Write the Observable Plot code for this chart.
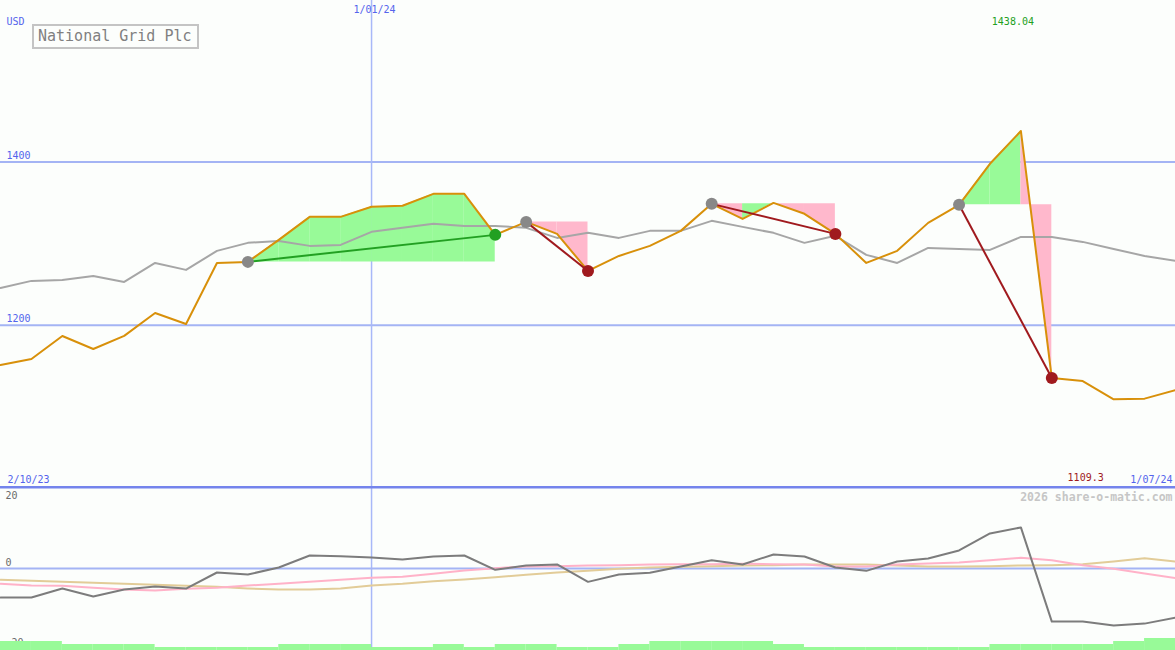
<!DOCTYPE html>
<html><head><meta charset="utf-8">
<script src="https://cdn.jsdelivr.net/npm/d3@7"></script>
<script src="https://cdn.jsdelivr.net/npm/@observablehq/plot@0.6"></script>
<style>
html,body{margin:0;padding:0;background:#fcfefc;overflow:hidden}
#wrap{position:relative;width:1175px;height:650px;background:#fcfefc}
#wrap svg{position:absolute;left:0;display:block;overflow:visible}
#title{position:absolute;left:32px;top:24px;width:167px;height:25px;box-sizing:border-box;border:2px solid #c4c4c4;font:15px "DejaVu Sans Mono",monospace;color:#808080;line-height:21px;padding-left:4px;white-space:nowrap;background:#fcfefc}
</style></head><body>
<div id="wrap"></div>
<script>
// ---- data ----
const dates = ["2023-10-09","2023-10-16","2023-10-23","2023-10-30","2023-11-06","2023-11-13","2023-11-20","2023-11-27",
"2023-12-04","2023-12-11","2023-12-18","2023-12-25","2024-01-01","2024-01-08","2024-01-15","2024-01-22","2024-01-29",
"2024-02-05","2024-02-12","2024-02-19","2024-02-26","2024-03-04","2024-03-11","2024-03-18","2024-03-25","2024-04-01",
"2024-04-08","2024-04-15","2024-04-22","2024-04-29","2024-05-06","2024-05-13","2024-05-20","2024-05-27","2024-06-03",
"2024-06-10","2024-06-17","2024-06-24","2024-07-01"].map(d => new Date(d));
const price = [1151.3,1158.7,1186.9,1170.9,1187.0,1215.1,1201.6,1276.4,1277.7,1304.7,1332.9,1332.9,1345.2,1346.5,1361.1,1361.1,
1310.8,1326.7,1312.0,1266.6,1285.0,1297.3,1315.7,1348.8,1330.4,1350.0,1336.6,1312.0,1276.4,1291.2,1325.5,1347.6,1397.9,1438.04,
1135.3,1131.6,1109.3,1110.1,1120.6];
const avg = [1245.8,1254.4,1255.6,1260.5,1253.1,1276.4,1267.9,1291.2,1301.0,1303.4,1297.3,1298.5,1314.5,1319.4,1324.3,1321.8,
1321.8,1319.4,1307.1,1313.3,1307.1,1315.7,1315.7,1328.0,1320.6,1313.3,1301.0,1309.6,1286.3,1276.4,1294.8,1293.6,1292.4,1308.3,
1308.3,1302.2,1293.6,1285.0,1278.9];
const momentum = [-8.7,-8.7,-6.0,-8.4,-6.3,-5.4,-6.0,-1.2,-1.8,0.3,3.9,3.7,3.3,2.7,3.6,3.9,-0.4,0.9,1.2,-4.0,-1.8,-1.3,0.6,2.5,
1.2,4.2,3.6,0.3,-0.7,2.1,3.0,5.4,10.5,12.3,-15.9,-15.9,-17.1,-16.5,-14.7];
const pinkSignal = [-4.6,-5.1,-5.2,-5.8,-6.3,-6.6,-6.1,-5.8,-5.1,-4.6,-4.0,-3.4,-2.8,-2.5,-1.6,-0.6,0.1,0.6,0.7,0.9,1.0,1.2,1.3,
1.3,1.4,1.3,1.2,0.6,0.6,1.2,1.5,1.8,2.5,3.2,2.5,1.0,-0.1,-1.5,-2.9];
const tanSignal = [-3.4,-3.7,-4.0,-4.3,-4.6,-4.9,-5.2,-5.5,-6.0,-6.3,-6.3,-6.0,-5.1,-4.6,-3.8,-3.3,-2.6,-1.9,-1.2,-0.7,-0.1,0.3,
0.5,0.7,0.9,1.0,1.2,1.2,1.2,0.9,0.6,0.6,0.7,0.9,1.0,1.3,2.1,3.1,2.1];
const volumeLevel = [3,3,2,2,2,1,1,1,1,2,2,2,1,1,2,1,2,2,1,1,2,3,3,3,3,2,1,1,1,1,1,1,2,2,2,2,3,4];
const trades = [{entry: 8, exit: 16},{entry: 17, exit: 19},{entry: 23, exit: 27},{entry: 31, exit: 34}];
const priceTicks = [1200, 1400];
const lowerTicks = [20, 0, -20];
const markerDate = new Date("2024-01-01");
const markerLabel = "1/01/24";
const startLabel = "2/10/23";
const endLabel = "1/07/24";
const currency = "USD";
const titleText = "National Grid Plc";
const watermark = "2026 share-o-matic.com";

// ---- colours ----
const BLUE_TXT = "#5464ec", GRID = "#a4b4f4", VLINE = "#a8b8f8", SEP = "#7484ec";
const ORANGE = "#d8900a", GRAYMA = "#a6a6a6", GREEN = "#22a022", RED = "#a01a1e";
const FILL_G = "#98fa98", FILL_P = "#ffb8cc";
const FONT = "DejaVu Sans Mono";

const W = 1175, H1 = 488, H2 = 162;
const xDomain = [dates[0], dates[dates.length - 1]];

// fill segments between price and entry level
const segs = [];
trades.forEach((t, k) => {
  for (let i = t.entry; i < t.exit; i++) {
    const col = price[i + 1] >= price[t.entry] ? FILL_G : FILL_P;
    const key = k + "-" + i;
    segs.push({seg: key, date: dates[i], y1: price[t.entry], y2: price[i], color: col});
    segs.push({seg: key, date: dates[i + 1], y1: price[t.entry], y2: price[i + 1], color: col});
  }
});
const series = dates.map((d, i) => ({date: d, price: price[i], avg: avg[i], mom: momentum[i], pink: pinkSignal[i], tan: tanSignal[i]}));
const profit = t => price[t.exit] >= price[t.entry];
const maxI = d3.maxIndex(price), minI = d3.minIndex(price);

const txt = {fontFamily: FONT, fontSize: 10, lineAnchor: "middle"};

const main = Plot.plot({
  width: W, height: H1, margin: 0,
  style: {background: "transparent", overflow: "visible"},
  x: {type: "utc", domain: xDomain, axis: null},
  y: {domain: [1000, 1598], axis: null},
  color: {type: "identity"},
  marks: [
    Plot.ruleY(priceTicks, {stroke: GRID, strokeWidth: 2}),
    Plot.ruleX([markerDate], {stroke: VLINE, strokeWidth: 1.5}),
    Plot.area(segs, {x1: "date", y1: "y1", y2: "y2", z: "seg", fill: "color"}),
    Plot.line(series, {x: "date", y: "avg", stroke: GRAYMA, strokeWidth: 2}),
    Plot.line(series, {x: "date", y: "price", stroke: ORANGE, strokeWidth: 2}),
    Plot.link(trades, {x1: t => dates[t.entry], y1: t => price[t.entry], x2: t => dates[t.exit], y2: t => price[t.exit],
      stroke: t => profit(t) ? GREEN : RED, strokeWidth: 2}),
    Plot.dot(trades, {x: t => dates[t.entry], y: t => price[t.entry], r: 6, fill: "#888888"}),
    Plot.dot(trades, {x: t => dates[t.exit], y: t => price[t.exit], r: 6, fill: t => profit(t) ? GREEN : RED}),
    Plot.text(priceTicks, {y: d => d, frameAnchor: "left", dx: 6, dy: -6, textAnchor: "start", text: d => String(d), fill: BLUE_TXT, ...txt}),
    Plot.text([currency], {frameAnchor: "top-left", dx: 6, dy: 21, textAnchor: "start", text: d => d, fill: BLUE_TXT, ...txt}),
    Plot.text([markerLabel], {x: markerDate, frameAnchor: "top", dx: 3, dy: 9, text: d => d, fill: BLUE_TXT, ...txt}),
    Plot.text([maxI], {x: i => dates[i], frameAnchor: "top", dx: -8, dy: 21, text: i => price[i].toFixed(2), fill: GREEN, ...txt}),
    Plot.text([minI], {x: i => dates[i], frameAnchor: "bottom", dx: -28, dy: -10.5, text: i => String(price[i]), fill: RED, ...txt}),
    Plot.text([startLabel], {frameAnchor: "bottom-left", dx: 7, dy: -9, textAnchor: "start", text: d => d, fill: BLUE_TXT, ...txt}),
    Plot.text([endLabel], {frameAnchor: "bottom-right", dx: -3, dy: -9, textAnchor: "end", text: d => d, fill: BLUE_TXT, ...txt}),
    Plot.ruleY([1000], {stroke: SEP, strokeWidth: 2.5, dy: -1.3})
  ]
});

const lower = Plot.plot({
  width: W, height: H2, margin: 0,
  style: {background: "transparent", overflow: "visible"},
  x: {type: "utc", domain: xDomain, axis: null},
  y: {domain: [-24.55, 23.95], axis: null},
  marks: [
    Plot.ruleX([markerDate], {stroke: VLINE, strokeWidth: 1.5}),
    Plot.ruleY([0], {stroke: GRID, strokeWidth: 2}),
    Plot.line(series, {x: "date", y: "tan", stroke: "#e2cc98", strokeWidth: 2}),
    Plot.line(series, {x: "date", y: "pink", stroke: "#ffb2c8", strokeWidth: 2}),
    Plot.line(series, {x: "date", y: "mom", stroke: "#7c7c7c", strokeWidth: 2}),
    Plot.text(lowerTicks.filter(v => v !== -20), {y: d => d, frameAnchor: "left", dx: 5, dy: -6, textAnchor: "start", text: d => String(d), fill: "#6a6a6a", ...txt}),
    Plot.text([-20], {y: d => d, frameAnchor: "left", dx: 5, dy: 7, textAnchor: "start", text: d => "-" + Math.abs(d), fill: "#6a6a6a", ...txt}),
    Plot.text([watermark], {frameAnchor: "top-right", dx: -3, dy: 8.5, textAnchor: "end", lineAnchor: "middle", text: d => d, fill: "#c6c6c6", fontFamily: FONT, fontSize: 11.5, fontWeight: "bold"})
  ]
});

const volRects = volumeLevel.map((v, i) => ({x1: dates[i], x2: dates[i + 1], v}));
const vol = Plot.plot({
  width: W, height: H2, margin: 0,
  style: {background: "transparent", overflow: "visible"},
  x: {type: "utc", domain: xDomain, axis: null},
  y: {domain: [0, 54], axis: null},
  marks: [
    Plot.rectY(volRects, {x1: "x1", x2: "x2", y: "v", fill: FILL_G})
  ]
});

const wrap = document.getElementById("wrap");
main.style.top = "0px";
lower.style.top = H1 + "px";
vol.style.top = H1 + "px";
wrap.appendChild(lower);
wrap.appendChild(main);
wrap.appendChild(vol);
const title = document.createElement("div");
title.id = "title";
title.textContent = titleText;
wrap.appendChild(title);
</script>
</body></html>
